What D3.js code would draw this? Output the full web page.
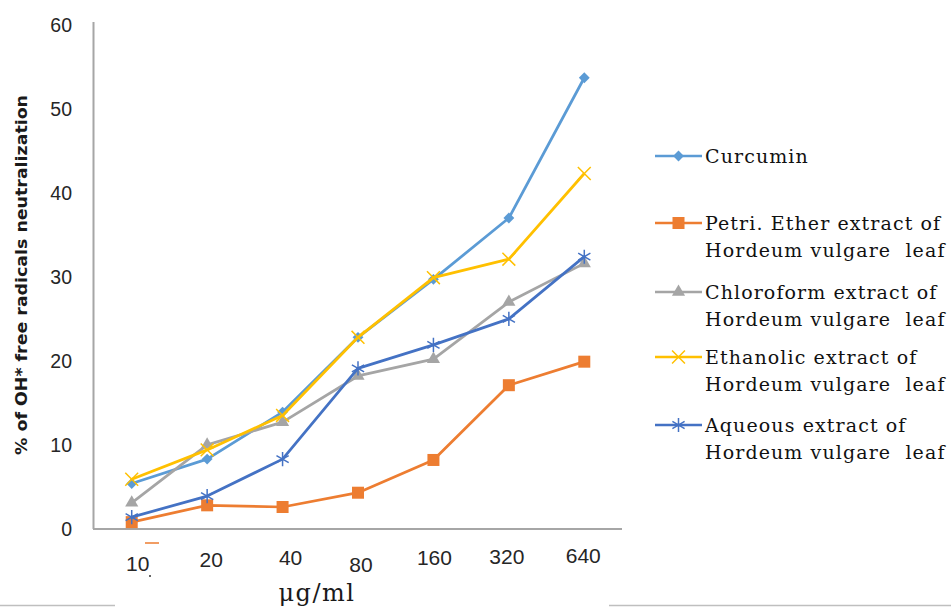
<!DOCTYPE html>
<html>
<head>
<meta charset="utf-8">
<script src="https://cdn.jsdelivr.net/npm/d3@7"></script>
<style>
  html, body { margin: 0; padding: 0; background: #fff; }
  svg { display: block; }
  text { white-space: pre; }
</style>
</head>
<body>
<svg id="chart" width="951" height="607"></svg>
<script>
// ---- data ----
const categories = ["10", "20", "40", "80", "160", "320", "640"];
const curcumin   = [5.3, 8.2, 13.8, 22.7, 29.6, 36.9, 53.6];
const petriEther = [0.7, 2.7, 2.5, 4.2, 8.1, 17.0, 19.8];
const chloroform = [3.0, 9.9, 12.6, 18.1, 20.1, 26.9, 31.5];
const ethanolic  = [5.8, 9.3, 13.4, 22.7, 29.8, 32.0, 42.2];
const aqueous    = [1.3, 3.8, 8.2, 19.0, 21.8, 24.9, 32.3];
const seriesNames = [
  ["Curcumin"],
  ["Petri. Ether extract of", "Hordeum vulgare  leaf"],
  ["Chloroform extract of", "Hordeum vulgare  leaf"],
  ["Ethanolic extract of", "Hordeum vulgare  leaf"],
  ["Aqueous extract of", "Hordeum vulgare  leaf"]
];
const yTicks = [0, 10, 20, 30, 40, 50, 60];
const yTitle = "% of OH* free radicals neutralization";
const xTitle = "μg/ml";

// ---- styles / layout ----
const colors  = ["#5B9BD5", "#ED7D31", "#A5A5A5", "#FFC000", "#4472C4"];
const markers = ["diamond", "square", "triangle", "x", "star"];
const seriesValues = [curcumin, petriEther, chloroform, ethanolic, aqueous];
// small hand-placement offsets of the category labels (as in the picture)
const xLabelDx = [6, 4, 8, 3, 1, -2, -1];
const xLabelBase = [571, 567, 565, 572, 565, 564, 563];
const legendRowY = [156, 223, 292, 357, 425];

const svg = d3.select("#chart");
const x = d3.scalePoint().domain(categories).range([94, 622]).padding(0.5);
const y = d3.scaleLinear().domain([0, 60]).range([528, 24]);

// outer frame fragments at bottom
svg.append("line").attr("x1", 0).attr("x2", 115).attr("y1", 605.5).attr("y2", 605.5)
  .attr("stroke", "#BFBFBF").attr("stroke-width", 1.5);
svg.append("line").attr("x1", 609).attr("x2", 951).attr("y1", 605.5).attr("y2", 605.5)
  .attr("stroke", "#BFBFBF").attr("stroke-width", 1.5);

// axes lines
svg.append("line").attr("x1", 93.5).attr("x2", 93.5).attr("y1", 22).attr("y2", 529)
  .attr("stroke", "#A6A6A6").attr("stroke-width", 2);
svg.append("line").attr("x1", 93).attr("x2", 622).attr("y1", 529).attr("y2", 529)
  .attr("stroke", "#A6A6A6").attr("stroke-width", 2);

// y tick labels
const yAxis = d3.axisLeft(y).tickValues(yTicks).tickSize(0).tickPadding(0);
const gy = svg.append("g").attr("transform", "translate(72,1)").call(yAxis);
gy.select(".domain").remove();
gy.selectAll("text").attr("font-family", "'Liberation Sans', Arial, sans-serif")
  .attr("font-size", 19.5).attr("fill", "#262626");

// x tick labels
svg.append("g").selectAll("text").data(categories).join("text")
  .attr("x", (d, i) => x(d) + xLabelDx[i])
  .attr("y", (d, i) => xLabelBase[i])
  .attr("text-anchor", "middle")
  .attr("font-family", "'Liberation Sans', Arial, sans-serif")
  .attr("font-size", 21).attr("fill", "#262626")
  .text(d => d);
// small stray marks near the first label
svg.append("line").attr("x1", 145).attr("x2", 159).attr("y1", 543).attr("y2", 543)
  .attr("stroke", "#ED7D31").attr("stroke-width", 1.5);
svg.append("circle").attr("cx", 150).attr("cy", 576).attr("r", 1).attr("fill", "#333");

// axis titles
svg.append("text")
  .attr("transform", "translate(27,275) rotate(-90)")
  .attr("text-anchor", "middle")
  .attr("font-family", "'DejaVu Sans', Verdana, sans-serif")
  .attr("font-weight", "bold").attr("font-size", 15).attr("fill", "#1a1a1a")
  .attr("textLength", 360).attr("lengthAdjust", "spacingAndGlyphs")
  .text(yTitle);
svg.append("text")
  .attr("x", 317).attr("y", 601)
  .attr("text-anchor", "middle")
  .attr("font-family", "'DejaVu Serif', serif")
  .attr("font-size", 24).attr("letter-spacing", 1.5).attr("fill", "#1a1a1a")
  .text(xTitle);

// marker drawing helper
function drawMarker(g, type, cx, cy, color) {
  if (type === "diamond") {
    g.append("path").attr("d", d3.symbol().type(d3.symbolDiamond2).size(75)())
      .attr("transform", `translate(${cx},${cy})`).attr("fill", color);
  } else if (type === "square") {
    g.append("rect").attr("x", cx - 6).attr("y", cy - 6).attr("width", 12).attr("height", 12)
      .attr("fill", color);
  } else if (type === "triangle") {
    g.append("path").attr("d", d3.symbol().type(d3.symbolTriangle).size(75)())
      .attr("transform", `translate(${cx},${cy})`).attr("fill", color);
  } else if (type === "x") {
    g.append("path").attr("d", d3.symbol().type(d3.symbolX).size(110)())
      .attr("transform", `translate(${cx},${cy})`).attr("fill", "none")
      .attr("stroke", color).attr("stroke-width", 1.5);
  } else if (type === "star") {
    g.append("path").attr("d", d3.symbol().type(d3.symbolAsterisk).size(140)())
      .attr("transform", `translate(${cx},${cy})`).attr("fill", "none")
      .attr("stroke", color).attr("stroke-width", 1.5);
  }
}

// series
const line = d3.line().x((d, i) => x(categories[i])).y(d => y(d));
seriesValues.forEach((vals, s) => {
  const g = svg.append("g");
  g.append("path").datum(vals).attr("d", line)
    .attr("fill", "none").attr("stroke", colors[s]).attr("stroke-width", 2.75)
    .attr("stroke-linejoin", "round");
  vals.forEach((v, i) => drawMarker(g, markers[s], x(categories[i]), y(v), colors[s]));
});

// legend
const lg = svg.append("g");
seriesNames.forEach((lines, s) => {
  const cy = legendRowY[s];
  lg.append("line").attr("x1", 655).attr("x2", 702).attr("y1", cy).attr("y2", cy)
    .attr("stroke", colors[s]).attr("stroke-width", 2.5);
  drawMarker(lg, markers[s], 678.5, cy, colors[s]);
  lines.forEach((t, k) => {
    lg.append("text").attr("x", 705).attr("y", cy + 7 + k * 27)
      .attr("font-family", "'DejaVu Serif', serif")
      .attr("font-size", 19).attr("letter-spacing", 1.1).attr("fill", "#111")
      .text(t);
  });
});
</script>
</body>
</html>
